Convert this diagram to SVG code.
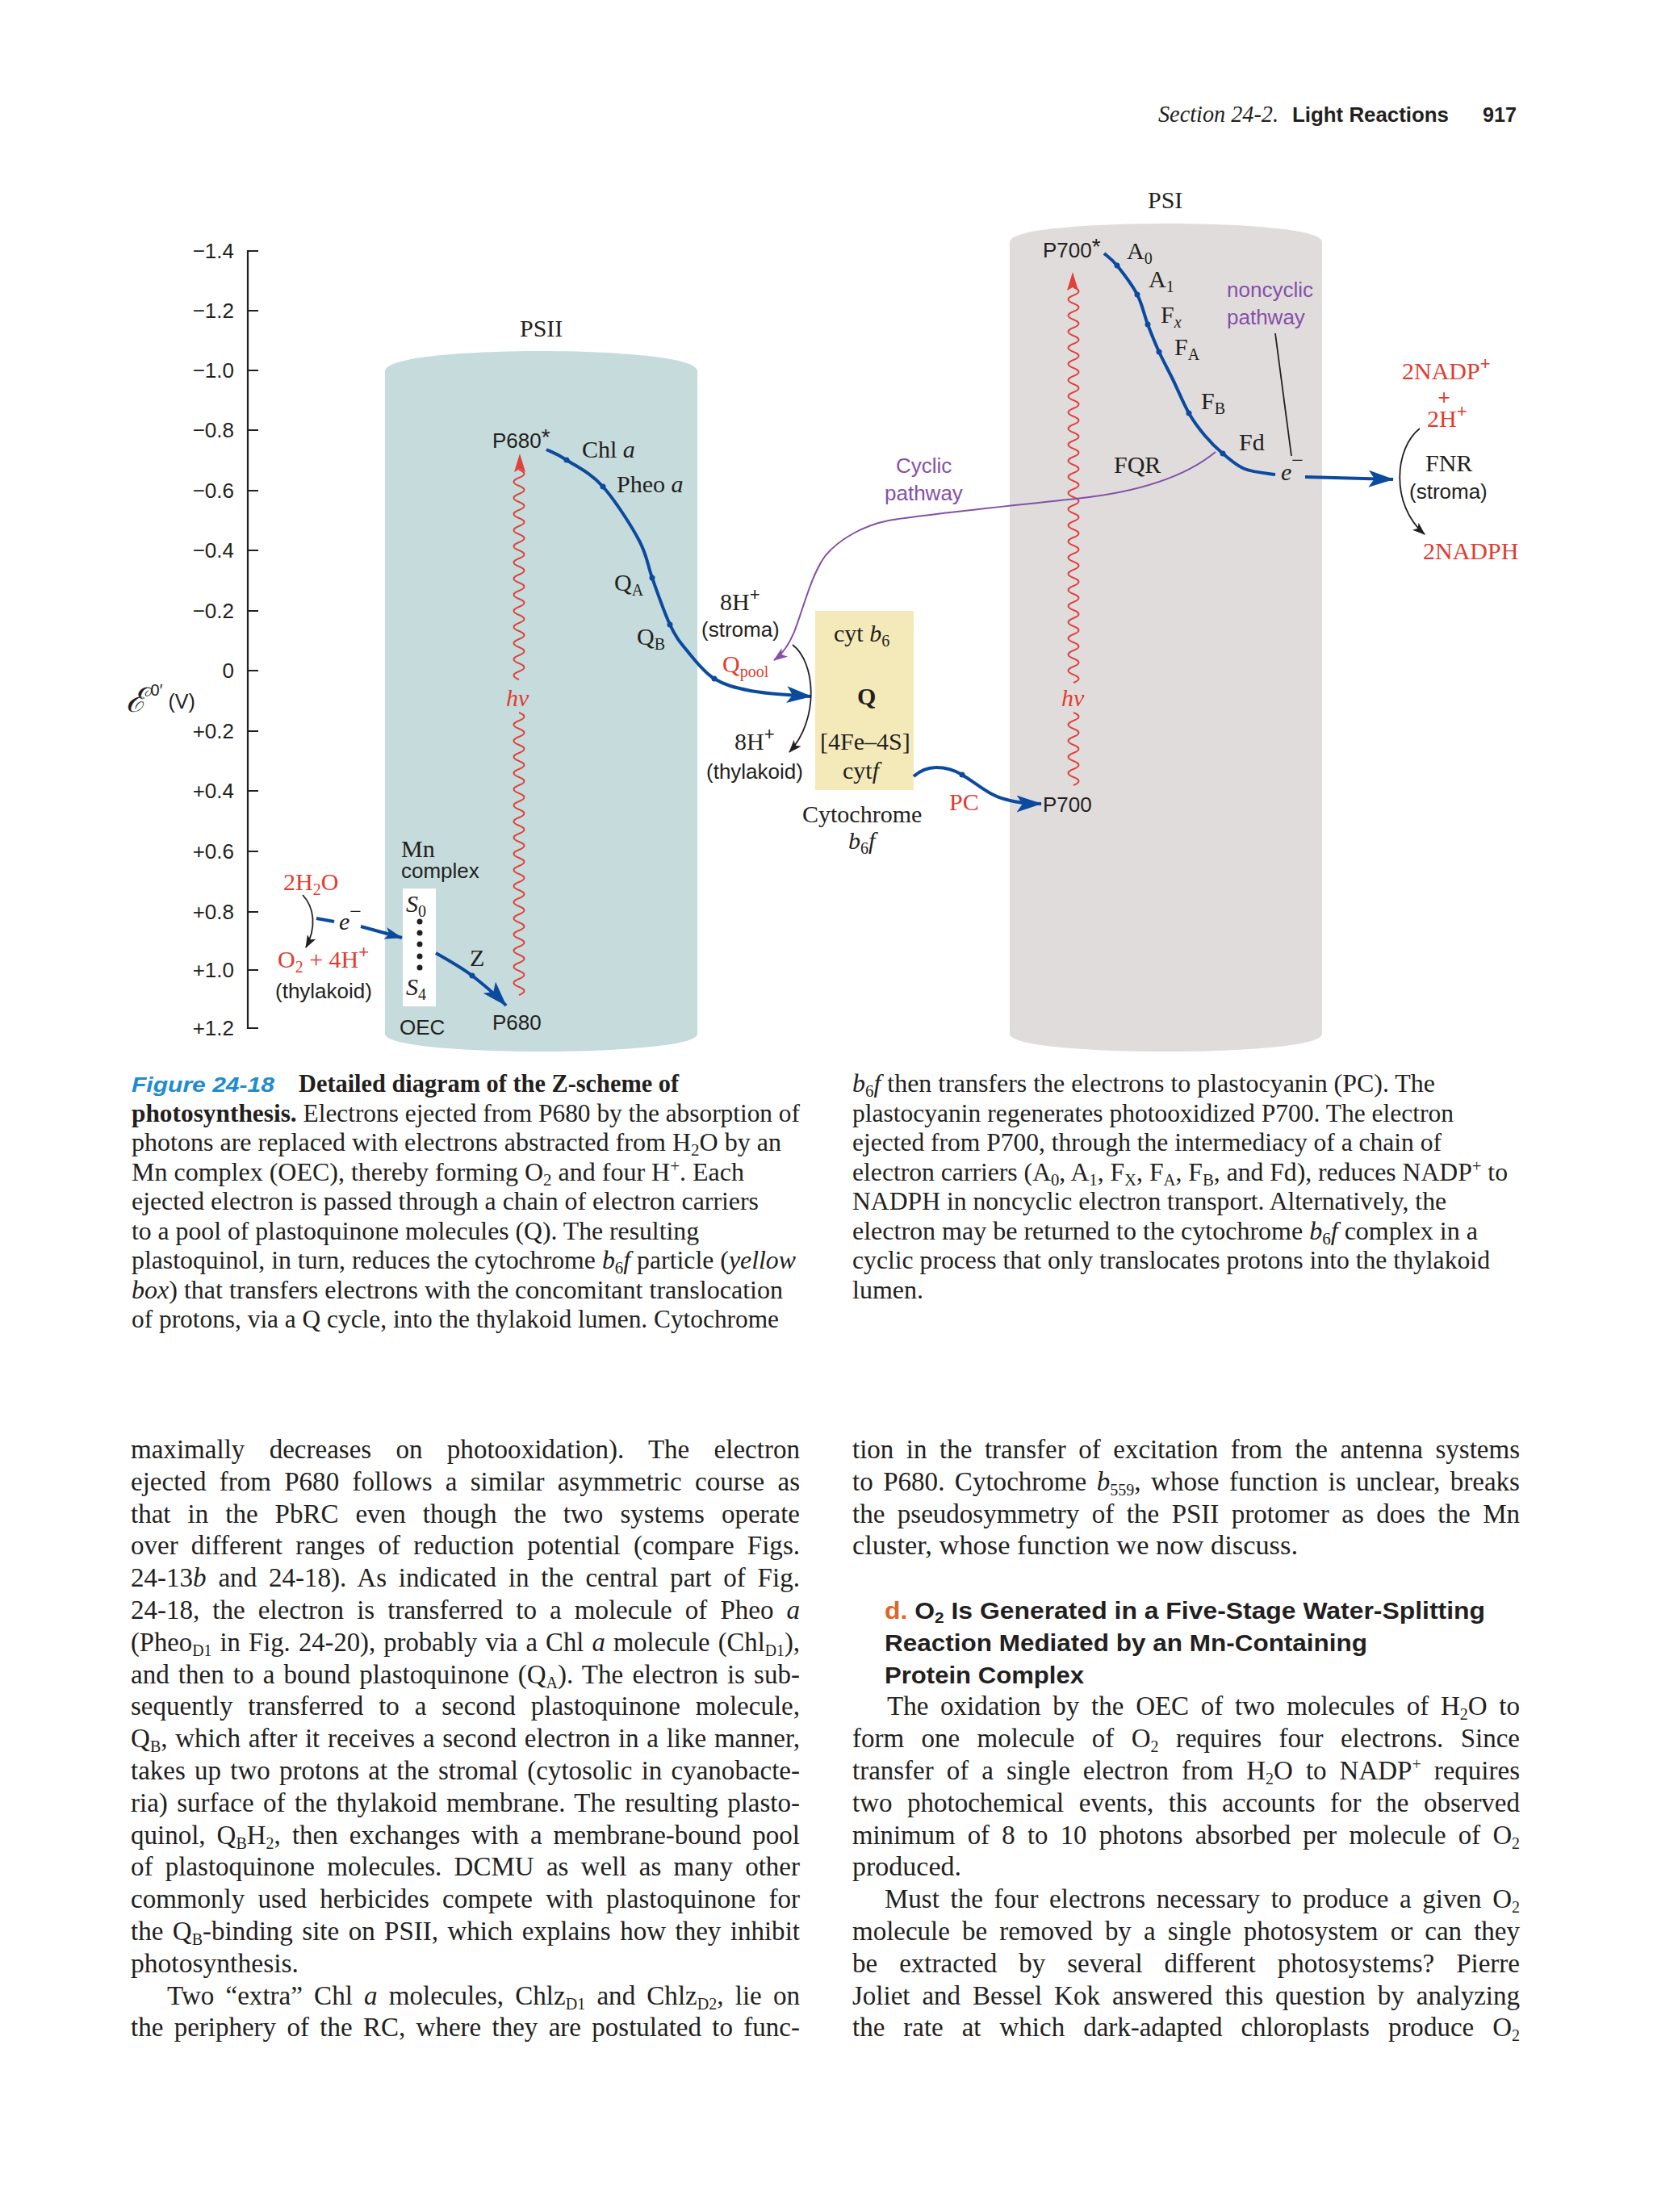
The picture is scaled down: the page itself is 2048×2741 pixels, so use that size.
<svg xmlns="http://www.w3.org/2000/svg" width="2048" height="2741" viewBox="0 0 2048 2741">
<style>
.sans{font-family:"Liberation Sans",Arial,sans-serif;font-size:26px;fill:#231f20}
.serif{font-family:"Liberation Serif","Times New Roman",serif;font-size:30px;fill:#231f20}
.red{fill:#e03c31}
.pur{fill:#8550a8}
.it{font-style:italic}
.cap{font-family:"Liberation Serif","Times New Roman",serif;font-size:30.5px;fill:#231f20}
.body{font-family:"Liberation Serif","Times New Roman",serif;font-size:33px;fill:#231f20}
.head{font-family:"Liberation Sans",Arial,sans-serif;font-size:29px;font-weight:bold;fill:#231f20}
.tick{font-family:"Liberation Sans",Arial,sans-serif;font-size:26px;fill:#231f20;text-anchor:end}
.bl{stroke:#0b4a9e;stroke-width:4;fill:none}
.wave{stroke:#e0413a;stroke-width:2;fill:none}
.blk{stroke:#231f20;stroke-width:1.8;fill:none}
.dot{fill:#0b4a9e}
</style>
<defs>
<marker id="ab" viewBox="0 0 30 20" refX="29" refY="10" markerWidth="32" markerHeight="21" markerUnits="userSpaceOnUse" orient="auto"><path d="M0,0 L30,10 L0,20 L7,10 Z" fill="#0b4a9e"/></marker>
<marker id="abs" viewBox="0 0 30 20" refX="29" refY="10" markerWidth="22" markerHeight="15" markerUnits="userSpaceOnUse" orient="auto"><path d="M0,0 L30,10 L0,20 L7,10 Z" fill="#0b4a9e"/></marker>
<marker id="ak" viewBox="0 0 16 12" refX="15" refY="6" markerWidth="16" markerHeight="12" markerUnits="userSpaceOnUse" orient="auto"><path d="M0,0 L16,6 L0,12 L4,6 Z" fill="#231f20"/></marker>
<marker id="ap" viewBox="0 0 16 12" refX="15" refY="6" markerWidth="18" markerHeight="13" markerUnits="userSpaceOnUse" orient="auto"><path d="M0,0 L16,6 L0,12 L4,6 Z" fill="#8550a8"/></marker>
</defs>

<!-- page header -->
<g id="header">
<text x="1435" y="151" class="serif it" font-size="26" textLength="149" lengthAdjust="spacingAndGlyphs">Section 24-2.</text>
<text x="1601" y="151" class="sans" font-size="24" font-weight="bold" textLength="194" lengthAdjust="spacingAndGlyphs">Light Reactions</text>
<text x="1837" y="151" class="sans" font-size="25" font-weight="bold" textLength="42" lengthAdjust="spacingAndGlyphs">917</text>
</g>

<!-- cylinders -->
<g id="psii">
<path d="M477,460 C477,440 600,435 670,435 C740,435 864,440 864,460 V1281 C864,1298 740,1303 670,1303 C600,1303 477,1298 477,1281 Z" fill="#c6dbdc"/>
<text x="644" y="417" class="serif" font-size="32">PSII</text>
</g>
<g id="psi">
<path d="M1251,300 C1251,282 1370,277 1445,277 C1520,277 1638,282 1638,300 V1281 C1638,1298 1520,1303 1445,1303 C1370,1303 1251,1298 1251,1281 Z" fill="#e0dcdc"/>
<text x="1422" y="258" class="serif" font-size="32">PSI</text>
</g>
<g id="cytb6f">
<rect x="1010" y="757" width="122" height="222" fill="#f4e9b8"/>
<text x="1033" y="795" class="serif">cyt <tspan class="it">b</tspan><tspan dy="6" font-size="20">6</tspan></text>
<text x="1062" y="873" class="serif" font-weight="bold" font-size="28">Q</text>
<text x="1016" y="929" class="serif">[4Fe–4S]</text>
<text x="1044" y="965" class="serif">cyt<tspan class="it">f</tspan></text>
<text x="994" y="1019" class="serif">Cytochrome</text>
<text x="1051" y="1052" class="serif"><tspan class="it">b</tspan><tspan dy="6" font-size="20">6</tspan><tspan dy="-6" class="it">f</tspan></text>
</g>
<g id="oec">
<rect x="499" y="1101" width="41" height="146" fill="#ffffff"/>
<text x="503" y="1130" class="serif it">S<tspan dy="6" font-size="20" font-style="normal">0</tspan></text>
<g fill="#231f20"><circle cx="520" cy="1142" r="3.5"/><circle cx="520" cy="1156" r="3.5"/><circle cx="520" cy="1170" r="3.5"/><circle cx="520" cy="1185" r="3.5"/><circle cx="520" cy="1199" r="3.5"/></g>
<text x="503" y="1233" class="serif it">S<tspan dy="6" font-size="20" font-style="normal">4</tspan></text>
<text x="497" y="1062" class="serif">Mn</text>
<text x="497" y="1088" class="sans">complex</text>
<text x="495" y="1282" class="sans" font-size="23">OEC</text>
</g>

<!-- axis -->
<g id="axis" stroke="#231f20" stroke-width="2.2" fill="none">
<path d="M320,311 H307 V1274 H320 M307,385 H320 M307,459 H320 M307,533 H320 M307,608 H320 M307,682 H320 M307,757 H320 M307,831 H320 M307,906 H320 M307,980 H320 M307,1055 H320 M307,1130 H320 M307,1202 H320"/>
</g>
<g id="axis-labels">
<text x="290" y="320" class="tick">−1.4</text>
<text x="290" y="394" class="tick">−1.2</text>
<text x="290" y="468" class="tick">−1.0</text>
<text x="290" y="542" class="tick">−0.8</text>
<text x="290" y="617" class="tick">−0.6</text>
<text x="290" y="691" class="tick">−0.4</text>
<text x="290" y="766" class="tick">−0.2</text>
<text x="290" y="840" class="tick">0</text>
<text x="290" y="915" class="tick">+0.2</text>
<text x="290" y="989" class="tick">+0.4</text>
<text x="290" y="1064" class="tick">+0.6</text>
<text x="290" y="1139" class="tick">+0.8</text>
<text x="290" y="1211" class="tick">+1.0</text>
<text x="290" y="1283" class="tick">+1.2</text>
<text x="156" y="882" class="sans"><tspan font-family="DejaVu Serif,serif" font-style="italic" font-size="42">ℰ</tspan><tspan dy="-20" font-size="20"> 0′</tspan><tspan dy="16" font-size="25"> (V)</tspan></text>
</g>

<!-- connectors -->
<g id="connectors">
<path class="wave" d="M643,582 q13,5 0,10 t0,10 t0,10 t0,10 t0,10 t0,10 t0,10 t0,10 t0,10 t0,10 t0,10 t0,10 t0,10 t0,10 t0,10 t0,10 t0,10 t0,10 t0,10 t0,10 t0,10 t0,10 t0,10 t0,10 t0,10 t0,10"/>
<path class="wave" d="M643,883 q13,5 0,10 t0,10 t0,10 t0,10 t0,10 t0,10 t0,10 t0,10 t0,10 t0,10 t0,10 t0,10 t0,10 t0,10 t0,10 t0,10 t0,10 t0,10 t0,10 t0,10 t0,10 t0,10 t0,10 t0,10 t0,10 t0,10 t0,10 t0,10 t0,10 t0,10 t0,10 t0,10 t0,10 t0,10 t0,10"/>
<polygon points="644,562 637,585 644,581 651,585" fill="#e0413a"/>
<path class="wave" d="M1330,356 q13,5 0,10 t0,10 t0,10 t0,10 t0,10 t0,10 t0,10 t0,10 t0,10 t0,10 t0,10 t0,10 t0,10 t0,10 t0,10 t0,10 t0,10 t0,10 t0,10 t0,10 t0,10 t0,10 t0,10 t0,10 t0,10 t0,10 t0,10 t0,10 t0,10 t0,10 t0,10 t0,10 t0,10 t0,10 t0,10 t0,10 t0,10 t0,10 t0,10 t0,10 t0,10 t0,10 t0,10 t0,10 t0,10 t0,10 t0,10 t0,10 t0,10"/>
<path class="wave" d="M1330,883 q13,5 0,10 t0,10 t0,10 t0,10 t0,10 t0,10 t0,10 t0,10 t0,10"/>
<polygon points="1329,337 1322,360 1329,356 1336,360" fill="#e0413a"/>

<path class="bl" marker-end="url(#ab)" d="M677,557 C681,559 690,562 702,570 C714,578 732,586 747,603 C762,620 782,651 792,670 C802,689 802,699 808,716 C814,733 823,759 830,774 C837,789 842,795 851,806 C860,817 872,833 885,841 C898,849 910,852 930,856 C950,860 992,862 1005,863"/>
<path class="bl" marker-end="url(#ab)" d="M540,1181 C556,1190 572,1199 585,1209 C600,1221 614,1232 627,1246"/>
<path class="bl" d="M392,1138 L414,1142"/>
<path class="bl" stroke-width="3.5" marker-end="url(#abs)" d="M447,1148 L498,1162"/>
<path class="bl" marker-end="url(#ab)" d="M1132,962 C1140,955 1150,951 1160,951 C1172,951 1182,954 1192,960 C1210,971 1225,985 1244,990 C1260,995 1275,996 1290,996"/>
<path class="bl" d="M1368,314 C1370.7,316.5 1377,320.5 1384,329 C1390.8,337.5 1402.7,352.8 1409,365 C1415.3,377.2 1417.5,390.2 1422,402 C1426.5,413.8 1430.8,424.7 1436,436 C1441.2,447.3 1446.8,457.3 1453,470 C1459.2,482.7 1466.3,500.3 1473,512 C1479.7,523.7 1486,531.7 1493,540 C1500,548.3 1506.8,555.2 1515,562 C1523.2,568.8 1531.5,576.7 1542,581 C1552.5,585.3 1572,586.8 1580,588"/>
<path class="bl" marker-end="url(#ab)" d="M1617,591 L1726,594"/>
<path stroke="#8550a8" stroke-width="2" fill="none" marker-end="url(#ap)" d="M1506,560 C1460,598 1390,612 1333,618 C1260,626 1140,638 1101,645 C1070,651 1040,668 1023,688 C1005,712 995,755 984,783 C977,800 970,810 959,818"/>
<path class="blk" marker-end="url(#ak)" d="M982,799 C1010,820 1016,890 978,932"/>
<path class="blk" marker-end="url(#ak)" d="M375,1109 C390,1125 392,1150 379,1174"/>
<path class="blk" marker-end="url(#ak)" d="M1759,531 C1728,555 1722,625 1765,662"/>
<path class="blk" stroke-width="1.5" d="M1580,413 L1600,565"/>
<g class="dot">
<circle cx="702" cy="570" r="3.5"/><circle cx="747" cy="603" r="3.5"/><circle cx="808" cy="716" r="3.5"/><circle cx="830" cy="774" r="3.5"/><circle cx="885" cy="841" r="3.5"/>
<circle cx="585" cy="1209" r="3.5"/><circle cx="1192" cy="960" r="3.5"/>
<circle cx="1384" cy="329" r="3.5"/><circle cx="1409" cy="365" r="3.5"/><circle cx="1422" cy="402" r="3.5"/><circle cx="1436" cy="436" r="3.5"/><circle cx="1473" cy="512" r="3.5"/><circle cx="1515" cy="562" r="3.5"/>
</g>
</g>

<!-- PSII labels -->
<g id="psii-labels">
<text x="610" y="555" class="sans">P680<tspan dy="-4" font-size="28">*</tspan></text>
<text x="721" y="567" class="serif">Chl <tspan class="it">a</tspan></text>
<text x="764" y="610" class="serif">Pheo <tspan class="it">a</tspan></text>
<text x="761" y="732" class="serif">Q<tspan dy="6" font-size="20">A</tspan></text>
<text x="789" y="799" class="serif">Q<tspan dy="6" font-size="20">B</tspan></text>
<text x="627" y="875" class="serif red it" font-size="31">hν</text>
<text x="610" y="1276" class="sans">P680</text>
<text x="582" y="1197" class="serif">Z</text>
</g>
<g id="water">
<text x="351" y="1103" class="serif red">2H<tspan dy="6" font-size="20">2</tspan><tspan dy="-6">O</tspan></text>
<text x="420" y="1152" class="serif it">e<tspan dy="-14" font-size="26" font-style="normal">−</tspan></text>
<text x="344" y="1199" class="serif red">O<tspan dy="6" font-size="20">2</tspan><tspan dy="-6"> + 4H</tspan><tspan dy="-12" font-size="22" font-family="Liberation Sans,sans-serif">+</tspan></text>
<text x="341" y="1237" class="sans">(thylakoid)</text>
</g>
<g id="qpool">
<text x="892" y="756" class="serif">8H<tspan dy="-12" font-size="22" font-family="Liberation Sans,sans-serif">+</tspan></text>
<text x="869" y="789" class="sans">(stroma)</text>
<text x="895" y="833" class="serif red">Q<tspan dy="6" font-size="20">pool</tspan></text>
<text x="910" y="929" class="serif">8H<tspan dy="-12" font-size="22" font-family="Liberation Sans,sans-serif">+</tspan></text>
<text x="875" y="965" class="sans">(thylakoid)</text>
<text x="1176" y="1004" class="serif red">PC</text>
<text x="1110" y="586" class="sans pur">Cyclic</text>
<text x="1096" y="620" class="sans pur">pathway</text>
</g>
<g id="psi-labels">
<text x="1292" y="319" class="sans">P700<tspan dy="-4" font-size="28">*</tspan></text>
<text x="1396" y="321" class="serif">A<tspan dy="6" font-size="20">0</tspan></text>
<text x="1423" y="356" class="serif">A<tspan dy="6" font-size="20">1</tspan></text>
<text x="1438" y="400" class="serif">F<tspan dy="6" font-size="20" class="it">x</tspan></text>
<text x="1455" y="440" class="serif">F<tspan dy="6" font-size="20">A</tspan></text>
<text x="1488" y="507" class="serif">F<tspan dy="6" font-size="20">B</tspan></text>
<text x="1535" y="558" class="serif">Fd</text>
<text x="1380" y="586" class="serif">FQR</text>
<text x="1520" y="368" class="sans pur">noncyclic</text>
<text x="1520" y="402" class="sans pur">pathway</text>
<text x="1587" y="595" class="serif it">e<tspan dy="-16" font-size="26" font-style="normal">−</tspan></text>
<text x="1315" y="875" class="serif red it" font-size="31">hν</text>
<text x="1292" y="1006" class="sans">P700</text>
</g>
<g id="fnr">
<text x="1737" y="470" class="serif red">2NADP<tspan dy="-12" font-size="22" font-family="Liberation Sans,sans-serif">+</tspan></text>
<text x="1789" y="501" class="sans red" text-anchor="middle" font-size="28">+</text>
<text x="1768" y="529" class="serif red">2H<tspan dy="-12" font-size="22" font-family="Liberation Sans,sans-serif">+</tspan></text>
<text x="1766" y="584" class="serif">FNR</text>
<text x="1746" y="618" class="sans">(stroma)</text>
<text x="1763" y="693" class="serif red">2NADPH</text>
</g>

<!-- figure caption -->
<g id="caption">
<text x="163" y="1353" class="sans" font-size="28" font-style="italic" font-weight="bold" style="fill:#1e8ccf" textLength="177" lengthAdjust="spacingAndGlyphs">Figure 24-18</text>
<text x="370" y="1353" class="cap" font-weight="bold" textLength="471" lengthAdjust="spacingAndGlyphs">Detailed diagram of the Z-scheme of</text>
<text x="163" y="1389.5" class="cap" textLength="828" lengthAdjust="spacingAndGlyphs"><tspan font-weight="bold">photosynthesis.</tspan> Electrons ejected from P680 by the absorption of</text>
<text x="163" y="1426" class="cap" textLength="805" lengthAdjust="spacingAndGlyphs">photons are replaced with electrons abstracted from H<tspan dy="6" font-size="20">2</tspan><tspan dy="-6">O by an</tspan></text>
<text x="163" y="1462.5" class="cap" textLength="759" lengthAdjust="spacingAndGlyphs">Mn complex (OEC), thereby forming O<tspan dy="6" font-size="20">2</tspan><tspan dy="-6"> and four H</tspan><tspan dy="-11" font-size="20">+</tspan><tspan dy="11">. Each</tspan></text>
<text x="163" y="1499" class="cap" textLength="777" lengthAdjust="spacingAndGlyphs">ejected electron is passed through a chain of electron carriers</text>
<text x="163" y="1535.5" class="cap" textLength="703" lengthAdjust="spacingAndGlyphs">to a pool of plastoquinone molecules (Q). The resulting</text>
<text x="163" y="1572" class="cap" textLength="823" lengthAdjust="spacingAndGlyphs">plastoquinol, in turn, reduces the cytochrome <tspan class="it">b</tspan><tspan dy="6" font-size="20">6</tspan><tspan dy="-6" class="it">f</tspan> particle (<tspan class="it">yellow</tspan></text>
<text x="163" y="1608.5" class="cap" textLength="807" lengthAdjust="spacingAndGlyphs"><tspan class="it">box</tspan>) that transfers electrons with the concomitant translocation</text>
<text x="163" y="1645" class="cap" textLength="802" lengthAdjust="spacingAndGlyphs">of protons, via a Q cycle, into the thylakoid lumen. Cytochrome</text>

<text x="1056" y="1353" class="cap" textLength="722" lengthAdjust="spacingAndGlyphs"><tspan class="it">b</tspan><tspan dy="6" font-size="20">6</tspan><tspan dy="-6" class="it">f</tspan> then transfers the electrons to plastocyanin (PC). The</text>
<text x="1056" y="1389.5" class="cap" textLength="745" lengthAdjust="spacingAndGlyphs">plastocyanin regenerates photooxidized P700. The electron</text>
<text x="1056" y="1426" class="cap" textLength="730" lengthAdjust="spacingAndGlyphs">ejected from P700, through the intermediacy of a chain of</text>
<text x="1056" y="1462.5" class="cap" textLength="812" lengthAdjust="spacingAndGlyphs">electron carriers (A<tspan dy="6" font-size="20">0</tspan><tspan dy="-6">, A</tspan><tspan dy="6" font-size="20">1</tspan><tspan dy="-6">, F</tspan><tspan dy="6" font-size="20">X</tspan><tspan dy="-6">, F</tspan><tspan dy="6" font-size="20">A</tspan><tspan dy="-6">, F</tspan><tspan dy="6" font-size="20">B</tspan><tspan dy="-6">, and Fd), reduces NADP</tspan><tspan dy="-11" font-size="20">+</tspan><tspan dy="11"> to</tspan></text>
<text x="1056" y="1499" class="cap" textLength="736" lengthAdjust="spacingAndGlyphs">NADPH in noncyclic electron transport. Alternatively, the</text>
<text x="1056" y="1535.5" class="cap" textLength="775" lengthAdjust="spacingAndGlyphs">electron may be returned to the cytochrome <tspan class="it">b</tspan><tspan dy="6" font-size="20">6</tspan><tspan dy="-6" class="it">f</tspan> complex in a</text>
<text x="1056" y="1572" class="cap" textLength="790" lengthAdjust="spacingAndGlyphs">cyclic process that only translocates protons into the thylakoid</text>
<text x="1056" y="1608.5" class="cap" textLength="88" lengthAdjust="spacingAndGlyphs">lumen.</text>
</g>

<!-- body text left column -->
<g id="body-left">
<text x="162" y="1807" class="body" word-spacing="22" textLength="829" lengthAdjust="spacingAndGlyphs">maximally decreases on photooxidation). The electron</text>
<text x="162" y="1846.8" class="body" word-spacing="8" textLength="829" lengthAdjust="spacingAndGlyphs">ejected from P680 follows a similar asymmetric course as</text>
<text x="162" y="1886.6" class="body" word-spacing="12.8" textLength="829" lengthAdjust="spacingAndGlyphs">that in the PbRC even though the two systems operate</text>
<text x="162" y="1926.4" class="body" word-spacing="7.9" textLength="829" lengthAdjust="spacingAndGlyphs">over different ranges of reduction potential (compare Figs.</text>
<text x="162" y="1966.2" class="body" word-spacing="6.5" textLength="829" lengthAdjust="spacingAndGlyphs">24-13<tspan class="it">b</tspan> and 24-18). As indicated in the central part of Fig.</text>
<text x="162" y="2006" class="body" word-spacing="7.8" textLength="829" lengthAdjust="spacingAndGlyphs">24-18, the electron is transferred to a molecule of Pheo <tspan class="it">a</tspan></text>
<text x="162" y="2045.8" class="body" word-spacing="2" textLength="829" lengthAdjust="spacingAndGlyphs">(Pheo<tspan dy="6" font-size="20">D1</tspan><tspan dy="-6"> in Fig. 24-20), probably via a Chl </tspan><tspan class="it">a</tspan> molecule (Chl<tspan dy="6" font-size="20">D1</tspan><tspan dy="-6">),</tspan></text>
<text x="162" y="2085.6" class="body" word-spacing="2.9" textLength="829" lengthAdjust="spacingAndGlyphs">and then to a bound plastoquinone (Q<tspan dy="6" font-size="20">A</tspan><tspan dy="-6">). The electron is sub-</tspan></text>
<text x="162" y="2125.4" class="body" word-spacing="10.6" textLength="829" lengthAdjust="spacingAndGlyphs">sequently transferred to a second plastoquinone molecule,</text>
<text x="162" y="2165.2" class="body" word-spacing="1.4" textLength="829" lengthAdjust="spacingAndGlyphs">Q<tspan dy="6" font-size="20">B</tspan><tspan dy="-6">, which after it receives a second electron in a like manner,</tspan></text>
<text x="162" y="2205" class="body" word-spacing="3" textLength="829" lengthAdjust="spacingAndGlyphs">takes up two protons at the stromal (cytosolic in cyanobacte-</text>
<text x="162" y="2244.8" class="body" word-spacing="3.2" textLength="829" lengthAdjust="spacingAndGlyphs">ria) surface of the thylakoid membrane. The resulting plasto-</text>
<text x="162" y="2284.6" class="body" word-spacing="5.8" textLength="829" lengthAdjust="spacingAndGlyphs">quinol, Q<tspan dy="6" font-size="20">B</tspan><tspan dy="-6">H</tspan><tspan dy="6" font-size="20">2</tspan><tspan dy="-6">, then exchanges with a membrane-bound pool</tspan></text>
<text x="162" y="2324.4" class="body" word-spacing="7" textLength="829" lengthAdjust="spacingAndGlyphs">of plastoquinone molecules. DCMU as well as many other</text>
<text x="162" y="2364.2" class="body" word-spacing="8" textLength="829" lengthAdjust="spacingAndGlyphs">commonly used herbicides compete with plastoquinone for</text>
<text x="162" y="2404" class="body" word-spacing="3.2" textLength="829" lengthAdjust="spacingAndGlyphs">the Q<tspan dy="6" font-size="20">B</tspan><tspan dy="-6">-binding site on PSII, which explains how they inhibit</tspan></text>
<text x="162" y="2443.8" class="body" textLength="208" lengthAdjust="spacingAndGlyphs">photosynthesis.</text>
<text x="207" y="2483.6" class="body" word-spacing="5.8" textLength="784" lengthAdjust="spacingAndGlyphs">Two “extra” Chl <tspan class="it">a</tspan> molecules, Chlz<tspan dy="6" font-size="20">D1</tspan><tspan dy="-6"> and Chlz</tspan><tspan dy="6" font-size="20">D2</tspan><tspan dy="-6">, lie on</tspan></text>
<text x="162" y="2523.4" class="body" word-spacing="5.1" textLength="829" lengthAdjust="spacingAndGlyphs">the periphery of the RC, where they are postulated to func-</text>
</g>

<!-- body text right column -->
<g id="body-right">
<text x="1056" y="1807" class="body" word-spacing="7.3" textLength="827" lengthAdjust="spacingAndGlyphs">tion in the transfer of excitation from the antenna systems</text>
<text x="1056" y="1846.8" class="body" word-spacing="4.2" textLength="827" lengthAdjust="spacingAndGlyphs">to P680. Cytochrome <tspan class="it">b</tspan><tspan dy="6" font-size="20">559</tspan><tspan dy="-6">, whose function is unclear, breaks</tspan></text>
<text x="1056" y="1886.6" class="body" word-spacing="7.3" textLength="827" lengthAdjust="spacingAndGlyphs">the pseudosymmetry of the PSII protomer as does the Mn</text>
<text x="1056" y="1926.4" class="body" textLength="552" lengthAdjust="spacingAndGlyphs">cluster, whose function we now discuss.</text>
<text x="1096" y="2006" class="head" textLength="744" lengthAdjust="spacingAndGlyphs"><tspan style="fill:#d9682b">d.</tspan> O<tspan dy="5" font-size="19">2</tspan><tspan dy="-5"> Is Generated in a Five-Stage Water-Splitting</tspan></text>
<text x="1096" y="2045.8" class="head" textLength="598" lengthAdjust="spacingAndGlyphs">Reaction Mediated by an Mn-Containing</text>
<text x="1096" y="2085.6" class="head" textLength="247" lengthAdjust="spacingAndGlyphs">Protein Complex</text>
<text x="1099" y="2125.4" class="body" word-spacing="6.5" textLength="784" lengthAdjust="spacingAndGlyphs">The oxidation by the OEC of two molecules of H<tspan dy="6" font-size="20">2</tspan><tspan dy="-6">O to</tspan></text>
<text x="1056" y="2165.2" class="body" word-spacing="13.1" textLength="827" lengthAdjust="spacingAndGlyphs">form one molecule of O<tspan dy="6" font-size="20">2</tspan><tspan dy="-6"> requires four electrons. Since</tspan></text>
<text x="1056" y="2205" class="body" word-spacing="7.8" textLength="827" lengthAdjust="spacingAndGlyphs">transfer of a single electron from H<tspan dy="6" font-size="20">2</tspan><tspan dy="-6">O to NADP</tspan><tspan dy="-12" font-size="20">+</tspan><tspan dy="12"> requires</tspan></text>
<text x="1056" y="2244.8" class="body" word-spacing="10.3" textLength="827" lengthAdjust="spacingAndGlyphs">two photochemical events, this accounts for the observed</text>
<text x="1056" y="2284.6" class="body" word-spacing="7.1" textLength="827" lengthAdjust="spacingAndGlyphs">minimum of 8 to 10 photons absorbed per molecule of O<tspan dy="6" font-size="20">2</tspan></text>
<text x="1056" y="2324.4" class="body" textLength="135" lengthAdjust="spacingAndGlyphs">produced.</text>
<text x="1096" y="2364.2" class="body" word-spacing="5.4" textLength="787" lengthAdjust="spacingAndGlyphs">Must the four electrons necessary to produce a given O<tspan dy="6" font-size="20">2</tspan></text>
<text x="1056" y="2404" class="body" word-spacing="6.9" textLength="827" lengthAdjust="spacingAndGlyphs">molecule be removed by a single photosystem or can they</text>
<text x="1056" y="2443.8" class="body" word-spacing="18.7" textLength="827" lengthAdjust="spacingAndGlyphs">be extracted by several different photosystems? Pierre</text>
<text x="1056" y="2483.6" class="body" word-spacing="6.7" textLength="827" lengthAdjust="spacingAndGlyphs">Joliet and Bessel Kok answered this question by analyzing</text>
<text x="1056" y="2523.4" class="body" word-spacing="14.7" textLength="827" lengthAdjust="spacingAndGlyphs">the rate at which dark-adapted chloroplasts produce O<tspan dy="6" font-size="20">2</tspan></text>
</g>
</svg>
